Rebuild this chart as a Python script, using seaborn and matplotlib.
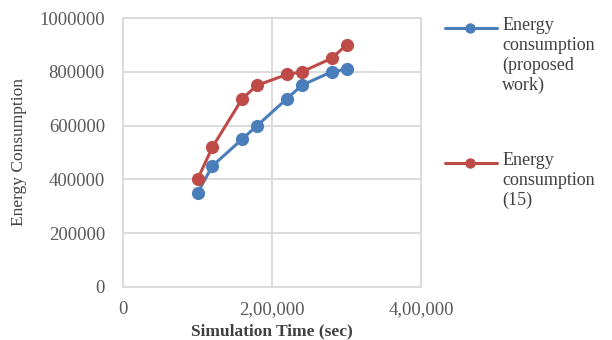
import matplotlib
matplotlib.use("Agg")
import matplotlib.pyplot as plt
from matplotlib.lines import Line2D
import pandas as pd
import seaborn as sns

# Simulation time (sec) and energy consumption for both approaches
sim_time = [100000, 120000, 160000, 180000, 220000, 240000, 280000, 300000]
energy_proposed = [350000, 450000, 550000, 600000, 700000, 750000, 800000, 810000]
energy_ref15 = [400000, 520000, 700000, 750000, 790000, 800000, 850000, 900000]

series_labels = ["Energy\nconsumption\n(proposed\nwork)", "Energy\nconsumption\n(15)"]
series_colors = ["#4A7EBB", "#BE4B48"]

x_ticks = [0, 200000, 400000]
x_tick_labels = ["0", "2,00,000", "4,00,000"]
y_ticks = [0, 200000, 400000, 600000, 800000, 1000000]
y_tick_labels = ["0", "200000", "400000", "600000", "800000", "1000000"]

df = pd.concat([
    pd.DataFrame({"time": sim_time, "energy": energy_proposed, "series": series_labels[0]}),
    pd.DataFrame({"time": sim_time, "energy": energy_ref15, "series": series_labels[1]}),
])

sns.set_theme(style="white")
plt.rcParams["font.family"] = ["Liberation Serif", "DejaVu Serif"]

fig = plt.figure(figsize=(6.12, 3.4), dpi=100)
ax = fig.add_axes([0.201, 0.156, 0.487, 0.791])

sns.lineplot(
    data=df, x="time", y="energy", hue="series",
    palette=series_colors, marker="o", markersize=9.5,
    markeredgewidth=0, linewidth=2.2, legend=False, ax=ax,
)

grid_color = "#D9D9D9"
ax.set_xlim(0, 400000)
ax.set_ylim(0, 1000000)
ax.set_xticks(x_ticks)
ax.set_xticklabels(x_tick_labels)
ax.set_yticks(y_ticks)
ax.set_yticklabels(y_tick_labels)
ax.grid(True, color=grid_color, linewidth=1.3)
ax.set_axisbelow(True)
for side in ["left", "bottom", "right", "top"]:
    ax.spines[side].set_color(grid_color)
    ax.spines[side].set_linewidth(1.3)
ax.tick_params(axis="both", length=0, labelsize=13.5, colors="#595959")
ax.tick_params(axis="y", pad=13)
ax.tick_params(axis="x", pad=10)

ax.set_xlabel("Simulation Time (sec)", fontsize=12.5, fontweight="bold",
              color="#404040", labelpad=4)
ax.set_ylabel("Energy Consumption", fontsize=12.5, color="#404040", labelpad=9)

# Legend on the right, handle aligned with the first text line
legend_rows = [(0.918, 0.950), (0.521, 0.553)]
for label, color, (yline, ytop) in zip(series_labels, series_colors, legend_rows):
    fig.add_artist(Line2D([0.727, 0.812], [yline, yline], color=color,
                          linewidth=2.2, transform=fig.transFigure))
    fig.add_artist(Line2D([0.768], [yline], color=color, marker="o",
                          markersize=7.5, markeredgewidth=0,
                          transform=fig.transFigure))
    fig.text(0.821, ytop, label, fontsize=13, color="#404040",
             va="top", ha="left", linespacing=1.2)

fig.savefig("out.png", dpi=100)
